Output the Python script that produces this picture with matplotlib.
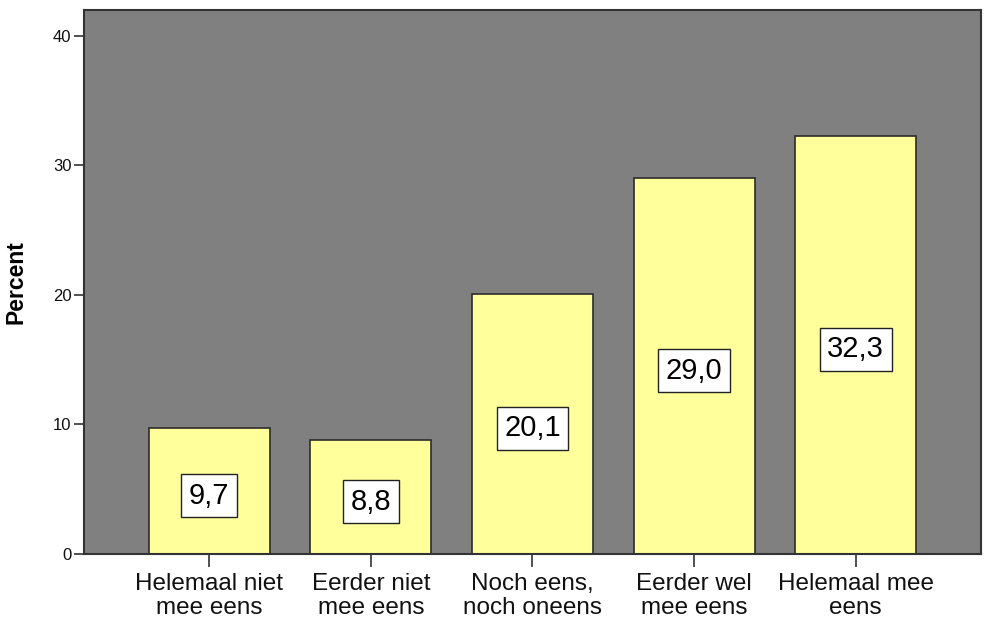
import matplotlib
matplotlib.use('Agg')
import matplotlib.pyplot as plt

# answer categories and percentages
categories = ['Helemaal niet\nmee eens', 'Eerder niet\nmee eens', 'Noch eens,\nnoch oneens',
              'Eerder wel\nmee eens', 'Helemaal mee\neens']
percents = [9.7, 8.8, 20.1, 29.0, 32.3]
value_labels = ['9,7', '8,8', '20,1', '29,0', '32,3']
y_ticks = [0, 10, 20, 30, 40]

plt.rcParams['font.family'] = ['Liberation Sans', 'DejaVu Sans']

fig = plt.figure(figsize=(9.86, 6.23), dpi=100)
ax = fig.add_axes([84 / 986, 69 / 623, 897 / 986, 544 / 623])
ax.set_facecolor('#808080')

x = list(range(len(categories)))
ax.bar(x, percents, width=0.748, color='#ffff9c', edgecolor='#2b2b2b', linewidth=1.2, zorder=2)

# value boxes in the middle of each bar (slightly below centre, like SPSS)
for xi, v, lab in zip(x, percents, value_labels):
    ax.annotate(lab, (xi, v / 2), xytext=(0, -3.3), textcoords='offset points',
                ha='center', va='center', fontsize=21, color='black', zorder=3,
                bbox=dict(boxstyle='square,pad=0.26', facecolor='white', edgecolor='#222222', linewidth=1))

ax.set_xlim(-0.775, 4.775)
ax.set_ylim(0, 42)
ax.set_yticks(y_ticks)
ax.set_yticklabels([str(t) for t in y_ticks], fontsize=12, color='#111111')
ax.set_xticks(x)
ax.set_xticklabels(categories, fontsize=17.5, color='#111111', linespacing=1.1)
ax.tick_params(axis='y', length=7, width=1.2, color='#333333', pad=2)
ax.tick_params(axis='x', length=9, width=1.2, color='#333333', pad=5)
ax.set_ylabel('Percent', fontsize=16.5, fontweight='bold', labelpad=18)

for sp in ax.spines.values():
    sp.set_color('#333333')
    sp.set_linewidth(1.5)

fig.savefig('out.png', dpi=100)
